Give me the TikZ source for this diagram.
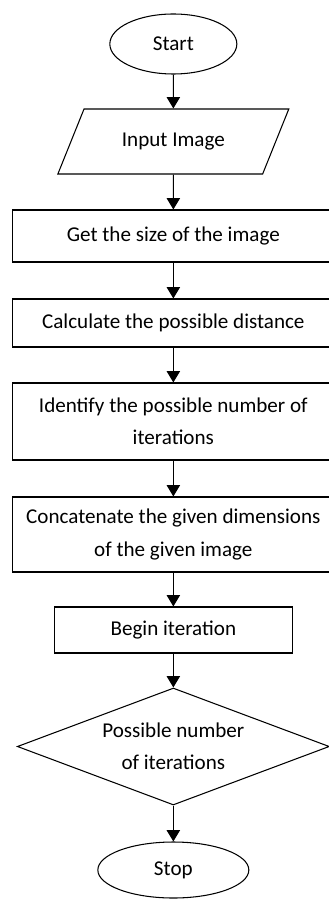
\documentclass[tikz,border=0pt]{standalone}
\usepackage{fontspec}
\setmainfont{Carlito}
\usepackage{tikz}
\usetikzlibrary{shapes.geometric}
\usetikzlibrary{arrows.meta, positioning, calc}

\begin{document}
\begin{tikzpicture}[
    txt/.style={align=center, font=\fontsize{18}{27.5}\selectfont},
    base/.style={txt, draw=black, line width=0.9pt, inner sep=0pt},
    box/.style={base, rectangle, minimum width=9.66cm},
    term/.style={base, ellipse},
    io/.style={base, trapezium, trapezium left angle=48.7, trapezium right angle=131.3, trapezium stretches=true},
    test/.style={base, diamond},
    flow/.style={-{Triangle[width=0.4cm, length=0.34cm]}, line width=0.9pt}
]
\useasboundingbox (0,0) rectangle (9.84,-27.03);
\node[term, minimum width=3.81cm, minimum height=1.8cm] (start) at (5.2,-1.32) {Start};
\node[io, minimum width=6.93cm, minimum height=1.95cm] (input) at (5.2,-4.245) {Input Image};
\node[box, minimum height=1.56cm] (size) at (5.2,-7.08) {Get the size of the image};
\node[box, minimum height=1.44cm] (dist) at (5.2,-9.69) {Calculate the possible distance};
\node[box, minimum height=2.31cm] (iter) at (5.2,-12.645) {Identify the possible number of\\iterations};
\node[box, minimum height=2.25cm] (concat) at (5.2,-16.035) {Concatenate the given dimensions\\of the given image};
\node[box, minimum width=7.14cm, minimum height=1.38cm] (begin) at (5.2,-18.9) {Begin iteration};
\node[test, minimum width=9.36cm, minimum height=3.51cm,
      label={[txt]center:Possible number\\of iterations}] (poss) at (5.2,-22.395) {};
\node[term, minimum width=4.53cm, minimum height=1.68cm] (stop) at (5.2,-26.1) {Stop};

\draw[flow] (start) -- (input);
\draw[flow] (input) -- (size);
\draw[flow] (size) -- (dist);
\draw[flow] (dist) -- (iter);
\draw[flow] (iter) -- (concat);
\draw[flow] (concat) -- (begin);
\draw[flow] (begin) -- (poss);
\draw[flow] (poss) -- (stop);
\end{tikzpicture}
\end{document}
